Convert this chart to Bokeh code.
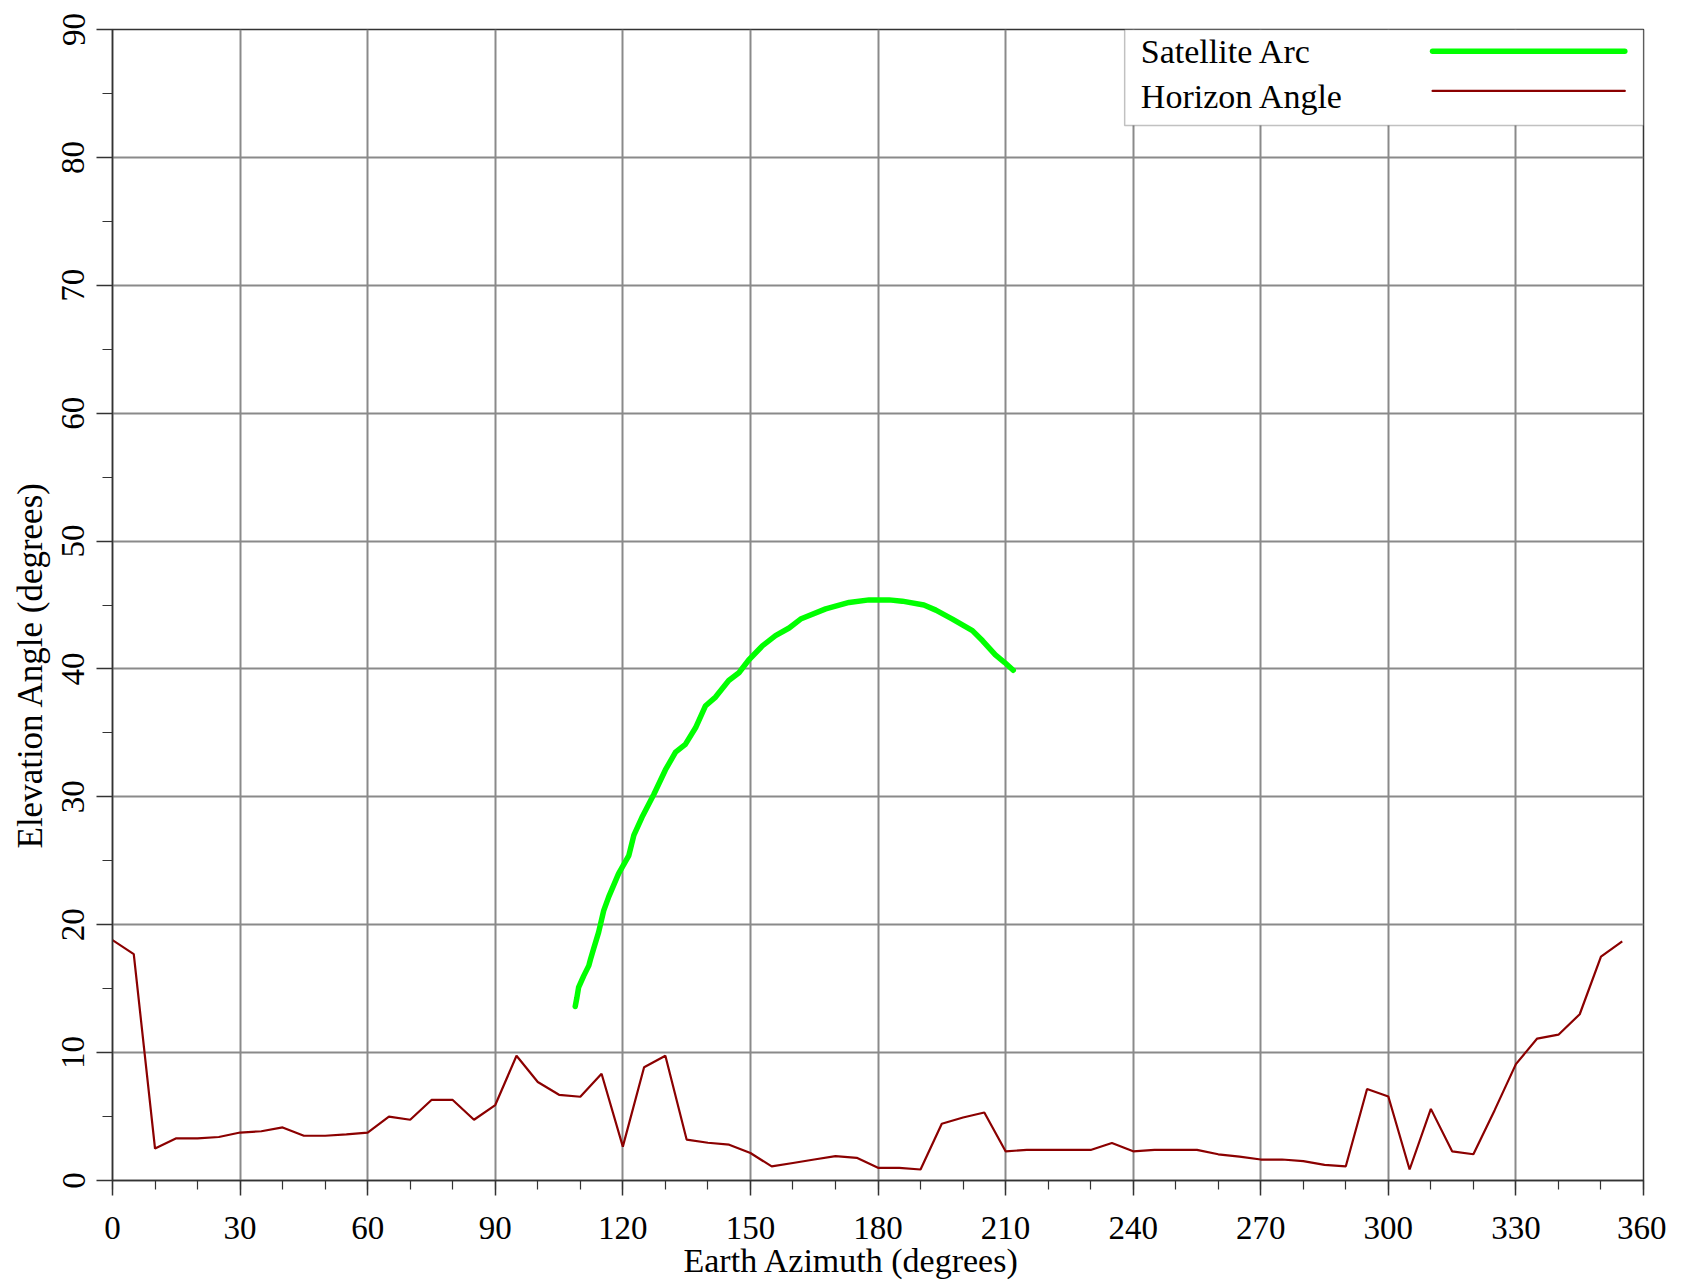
from bokeh.plotting import figure
from bokeh.models import FixedTicker, Range1d, Label, BoxAnnotation, Arrow, Title
from bokeh.embed import file_html
from bokeh.resources import INLINE

# ---------------- data ----------------
horizon_az = [0, 5, 10, 15, 20, 25, 30, 35, 40, 45, 50, 55, 60, 65, 70, 75, 80, 85,
              90, 95, 100, 105, 110, 115, 120, 125, 130, 135, 140, 145, 150, 155, 160, 165,
              170, 175, 180, 185, 190, 195, 200, 205, 210, 215, 220, 225, 230, 235, 240, 245,
              250, 255, 260, 265, 270, 275, 280, 285, 290, 295, 300, 305, 310, 315, 320, 325,
              330, 335, 340, 345, 350, 355]
horizon_el = [18.8, 17.7, 2.5, 3.3, 3.3, 3.4, 3.75, 3.85, 4.15, 3.5, 3.5, 3.6, 3.75, 5.0,
              4.75, 6.3, 6.3, 4.75, 5.9, 9.75, 7.7, 6.7, 6.55, 8.35, 2.65, 8.85, 9.75, 3.2,
              2.95, 2.8, 2.15, 1.1, 1.37, 1.64, 1.9, 1.77, 0.99, 0.99, 0.86, 4.44, 4.93, 5.32,
              2.28, 2.39, 2.39, 2.39, 2.39, 2.93, 2.28, 2.39, 2.39, 2.39, 2.05, 1.87, 1.64,
              1.64, 1.51, 1.22, 1.11, 7.15, 6.57, 0.86, 5.6, 2.28, 2.05, 5.5, 9.1, 11.1, 11.4,
              13.0, 17.5, 18.7]

arc_az = [108.8, 109.2, 109.6, 110.8, 112.0, 112.4, 113.2, 114.3, 115.5, 116.7, 119.0,
          121.4, 122.6, 124.5, 127.3, 130.0, 132.4, 134.7, 137.1, 139.4, 141.8, 144.9,
          147.3, 149.6, 152.8, 155.9, 159.1, 161.8, 167.7, 173.2, 177.9, 182.6, 185.7,
          190.8, 193.6, 197.5, 202.2, 204.6, 207.6, 209.8, 211.8]
arc_el = [13.6, 14.3, 15.1, 16.0, 16.8, 17.3, 18.2, 19.4, 21.1, 22.2, 24.0, 25.4, 27.0,
          28.4, 30.2, 32.1, 33.5, 34.1, 35.4, 37.1, 37.8, 39.1, 39.7, 40.7, 41.8, 42.6,
          43.2, 43.9, 44.7, 45.2, 45.4, 45.4, 45.3, 45.0, 44.6, 43.9, 43.0, 42.2, 41.1,
          40.5, 39.9]

x_ticks = list(range(0, 361, 30))
x_minor = list(range(0, 361, 10))
y_ticks = list(range(0, 91, 10))
y_minor = list(range(0, 91, 5))

series_names = ["Satellite Arc", "Horizon Angle"]
x_title = "Earth Azimuth (degrees)"
y_title = "Elevation Angle (degrees)"

# ---------------- style ----------------
FONT = "Liberation Serif"
ARC_COLOR = "#00ff00"
HOR_COLOR = "#8b0000"
GRID_COLOR = "#8a8a8a"

p = figure(width=1666, height=1286, x_range=Range1d(0, 360), y_range=Range1d(0, 90),
           output_backend="svg", toolbar_location=None,
           min_border_left=111, min_border_right=23, min_border_top=29, min_border_bottom=106)
p.background_fill_color = "white"
p.border_fill_color = "white"
p.outline_line_color = "#333333"
p.outline_line_width = 1.5

p.line(horizon_az, horizon_el, line_color=HOR_COLOR, line_width=2.2)
p.line(arc_az, arc_el, line_color=ARC_COLOR, line_width=5.5, line_cap="round", line_join="round")

for ax, ticks, minor in ((p.xaxis[0], x_ticks, x_minor), (p.yaxis[0], y_ticks, y_minor)):
    ax.ticker = FixedTicker(ticks=ticks, minor_ticks=minor)
    ax.major_label_text_font = FONT
    ax.major_label_text_font_size = "33px"
    ax.major_label_text_color = "black"
    ax.axis_line_color = "#333333"
    ax.axis_line_width = 1.5
    ax.major_tick_line_color = "#333333"
    ax.major_tick_line_width = 1.5
    ax.minor_tick_line_color = "#333333"
    ax.minor_tick_line_width = 1.2
    ax.major_tick_in = 0
    ax.minor_tick_in = 0

p.xaxis.major_tick_out = 15
p.xaxis.minor_tick_out = 9
p.xaxis.major_label_standoff = 21

p.yaxis.major_tick_out = 16
p.yaxis.minor_tick_out = 10
p.yaxis.major_label_orientation = "vertical"
p.yaxis.major_label_standoff = 12

p.xgrid.ticker = FixedTicker(ticks=x_ticks)
p.ygrid.ticker = FixedTicker(ticks=y_ticks)
for g in (p.xgrid[0], p.ygrid[0]):
    g.grid_line_color = GRID_COLOR
    g.grid_line_width = 2

# axis titles: placed as side titles so they can sit off-centre like the reference
has_standoff = "standoff" in Title.properties()
xt = Title(text=x_title, align="left", offset=571, vertical_align="top",
           text_font=FONT, text_font_size="34px", text_font_style="normal", text_color="black")
yt = Title(text=y_title, align="left", offset=332, vertical_align="middle",
           text_font=FONT, text_font_size="35px", text_font_style="normal", text_color="black")
if has_standoff:
    xt.standoff = 0
    yt.standoff = 18
p.add_layout(xt, "below")
p.add_layout(yt, "left")

# ---------------- legend (text on the left, line sample on the right) ----------------
LEG_LEFT, LEG_RIGHT, LEG_TOP, LEG_BOTTOM = 238.0, 360.0, 90.0, 82.5
LEG_TEXT_X = 241.8
LEG_TEXT_Y = [88.25, 84.8]
LEG_LINE_Y = [88.3, 85.2]
LEG_LINE_X0, LEG_LINE_X1 = 310.4, 355.6

p.add_layout(BoxAnnotation(left=LEG_LEFT, right=LEG_RIGHT, top=LEG_TOP, bottom=LEG_BOTTOM,
                           fill_color="white", fill_alpha=1.0,
                           line_color="#333333", line_width=1.5, level="annotation"))
styles = [(ARC_COLOR, 5.5), (HOR_COLOR, 2.2)]
for name, ty, ly, (col, lw) in zip(series_names, LEG_TEXT_Y, LEG_LINE_Y, styles):
    p.add_layout(Label(x=LEG_TEXT_X, y=ty, text=name, text_font=FONT, text_font_size="34px",
                       text_color="black", text_baseline="middle", text_align="left"))
    p.add_layout(Arrow(end=None, x_start=LEG_LINE_X0, y_start=ly, x_end=LEG_LINE_X1,
                       y_end=ly, line_color=col, line_width=lw, line_cap="round"))

open("out.html", "w").write(file_html(p, INLINE))
